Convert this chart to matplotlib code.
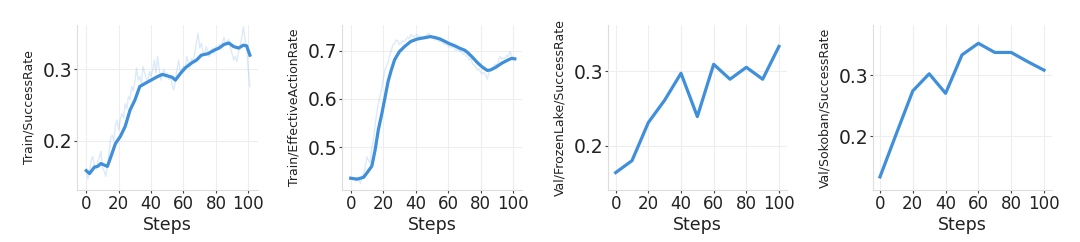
import matplotlib
matplotlib.use("Agg")
import matplotlib.pyplot as plt

# Train/SuccessRate: raw per-step values and the smoothed curve
train_sr_steps = list(range(0, 102))
train_sr_raw = [0.160, 0.146, 0.158, 0.172, 0.178, 0.165, 0.160, 0.170, 0.176, 0.185,
                0.162, 0.158, 0.150, 0.165, 0.182, 0.203, 0.208, 0.200, 0.222, 0.229,
                0.215, 0.230, 0.238, 0.232, 0.252, 0.245, 0.262, 0.258, 0.276, 0.270,
                0.283, 0.302, 0.285, 0.290, 0.280, 0.304, 0.295, 0.288, 0.282, 0.297,
                0.290, 0.300, 0.313, 0.295, 0.318, 0.300, 0.285, 0.292, 0.300, 0.288,
                0.295, 0.286, 0.290, 0.278, 0.271, 0.285, 0.300, 0.313, 0.296, 0.300,
                0.305, 0.298, 0.318, 0.310, 0.302, 0.315, 0.312, 0.323, 0.338, 0.351,
                0.330, 0.337, 0.325, 0.320, 0.332, 0.325, 0.318, 0.325, 0.330, 0.322,
                0.332, 0.328, 0.335, 0.330, 0.337, 0.345, 0.335, 0.340, 0.342, 0.330,
                0.322, 0.313, 0.318, 0.311, 0.325, 0.332, 0.345, 0.360, 0.342, 0.328,
                0.300, 0.276]
train_sr_smooth_steps = [0, 2, 5, 7, 9, 11, 13, 14, 16, 18, 21, 24, 27, 30, 33, 36, 40, 44,
                         47, 50, 53, 55, 58, 61, 65, 68, 71, 75, 79, 82, 85, 88, 91, 94,
                         97, 99, 101]
train_sr_smooth = [0.158, 0.154, 0.163, 0.164, 0.168, 0.166, 0.164, 0.170, 0.183, 0.196,
                   0.206, 0.220, 0.243, 0.257, 0.276, 0.280, 0.285, 0.290, 0.293, 0.291,
                   0.289, 0.285, 0.294, 0.302, 0.309, 0.313, 0.320, 0.322, 0.327, 0.330,
                   0.335, 0.337, 0.332, 0.330, 0.334, 0.333, 0.320]

# Train/EffectiveActionRate
train_ea_steps = list(range(0, 102))
train_ea_raw = [0.436, 0.433, 0.437, 0.430, 0.438, 0.432, 0.425, 0.440, 0.445, 0.460,
                0.480, 0.472, 0.468, 0.500, 0.515, 0.545, 0.570, 0.590, 0.605, 0.620,
                0.640, 0.660, 0.668, 0.675, 0.690, 0.701, 0.712, 0.715, 0.722, 0.720,
                0.712, 0.715, 0.720, 0.718, 0.723, 0.728, 0.725, 0.733, 0.730, 0.728,
                0.731, 0.733, 0.728, 0.730, 0.727, 0.725, 0.730, 0.733, 0.736, 0.730,
                0.728, 0.725, 0.722, 0.725, 0.720, 0.718, 0.722, 0.715, 0.712, 0.716,
                0.708, 0.710, 0.706, 0.709, 0.703, 0.700, 0.705, 0.697, 0.700, 0.692,
                0.695, 0.688, 0.690, 0.680, 0.684, 0.672, 0.670, 0.665, 0.660, 0.662,
                0.655, 0.652, 0.655, 0.650, 0.641, 0.655, 0.662, 0.660, 0.668, 0.672,
                0.670, 0.680, 0.688, 0.682, 0.685, 0.683, 0.690, 0.688, 0.698, 0.690,
                0.684, 0.682]
train_ea_smooth_steps = [0, 4, 8, 10, 13, 15, 17, 19, 21, 23, 25, 27, 30, 33, 37, 41, 46, 49,
                         52, 55, 58, 61, 64, 67, 70, 72, 75, 78, 81, 84, 86, 89, 93, 97,
                         99, 101]
train_ea_smooth = [0.436, 0.434, 0.438, 0.447, 0.461, 0.494, 0.536, 0.567, 0.601, 0.636,
                   0.660, 0.681, 0.698, 0.708, 0.719, 0.724, 0.727, 0.729, 0.727, 0.724,
                   0.719, 0.714, 0.710, 0.705, 0.701, 0.696, 0.686, 0.675, 0.666, 0.659,
                   0.660, 0.665, 0.674, 0.681, 0.684, 0.683]

# validation curves
val_steps = [0, 10, 20, 30, 40, 50, 60, 70, 80, 90, 100]
val_frozenlake = [0.164, 0.180, 0.231, 0.261, 0.297, 0.239, 0.309, 0.289, 0.305, 0.289, 0.333]
val_sokoban = [0.133, 0.204, 0.274, 0.302, 0.270, 0.333, 0.352, 0.337, 0.337, 0.322, 0.308]

ylabels = ["Train/SuccessRate", "Train/EffectiveActionRate",
           "Val/FrozenLake/SuccessRate", "Val/Sokoban/SuccessRate"]

LINE = "#3f8fdb"
fig = plt.figure(figsize=(10.8, 2.42), dpi=100)

# pixel boxes (left, right) for each panel; top 25, bottom 190
boxes = [(77, 258), (342, 522), (608, 787), (873, 1052)]
xlims = [(-5.74, 106.0), (-5.35, 105.4), (-4.7, 104.9), (-4.27, 104.9)]
ylims = [(0.1309, 0.3623), (0.4116, 0.753), (0.1407, 0.3616), (0.1115, 0.382)]
yticks = [[0.2, 0.3], [0.5, 0.6, 0.7], [0.2, 0.3], [0.2, 0.3]]

axes = []
for (l, r) in boxes:
    ax = fig.add_axes([l / 1080, (242 - 190) / 242, (r - l) / 1080, 165 / 242])
    axes.append(ax)

axes[0].plot(train_sr_steps, train_sr_raw, color=LINE, alpha=0.18, lw=1.0)
axes[0].plot(train_sr_smooth_steps, train_sr_smooth, color=LINE, lw=2.3)
axes[1].plot(train_ea_steps, train_ea_raw, color=LINE, alpha=0.18, lw=1.0)
axes[1].plot(train_ea_smooth_steps, train_ea_smooth, color=LINE, lw=2.3)
axes[2].plot(val_steps, val_frozenlake, color=LINE, lw=2.3)
axes[3].plot(val_steps, val_sokoban, color=LINE, lw=2.3)

for i, ax in enumerate(axes):
    ax.set_xlim(*xlims[i])
    ax.set_ylim(*ylims[i])
    ax.set_xticks([0, 20, 40, 60, 80, 100])
    ax.set_yticks(yticks[i])
    ax.set_yticklabels([f"{t:.1f}" for t in yticks[i]])
    ax.grid(True, color="#eeeeee", lw=0.8)
    ax.set_axisbelow(True)
    for s in ["top", "right"]:
        ax.spines[s].set_visible(False)
    for s in ["left", "bottom"]:
        ax.spines[s].set_color("#dddddd")
        ax.spines[s].set_linewidth(0.8)
    ax.tick_params(length=2, width=0.8, color="#444444", pad=1.5, labelcolor="#222222")
    ax.tick_params(axis="x", labelsize=12)
    ax.tick_params(axis="y", labelsize=13.5)
    ax.set_xlabel("Steps", fontsize=12.5, color="#222222", labelpad=2)
    ax.set_ylabel(ylabels[i], fontsize=9, color="#222222")
    ax.yaxis.set_label_coords(-0.23, 0.5)

fig.savefig("out.png", dpi=100)
